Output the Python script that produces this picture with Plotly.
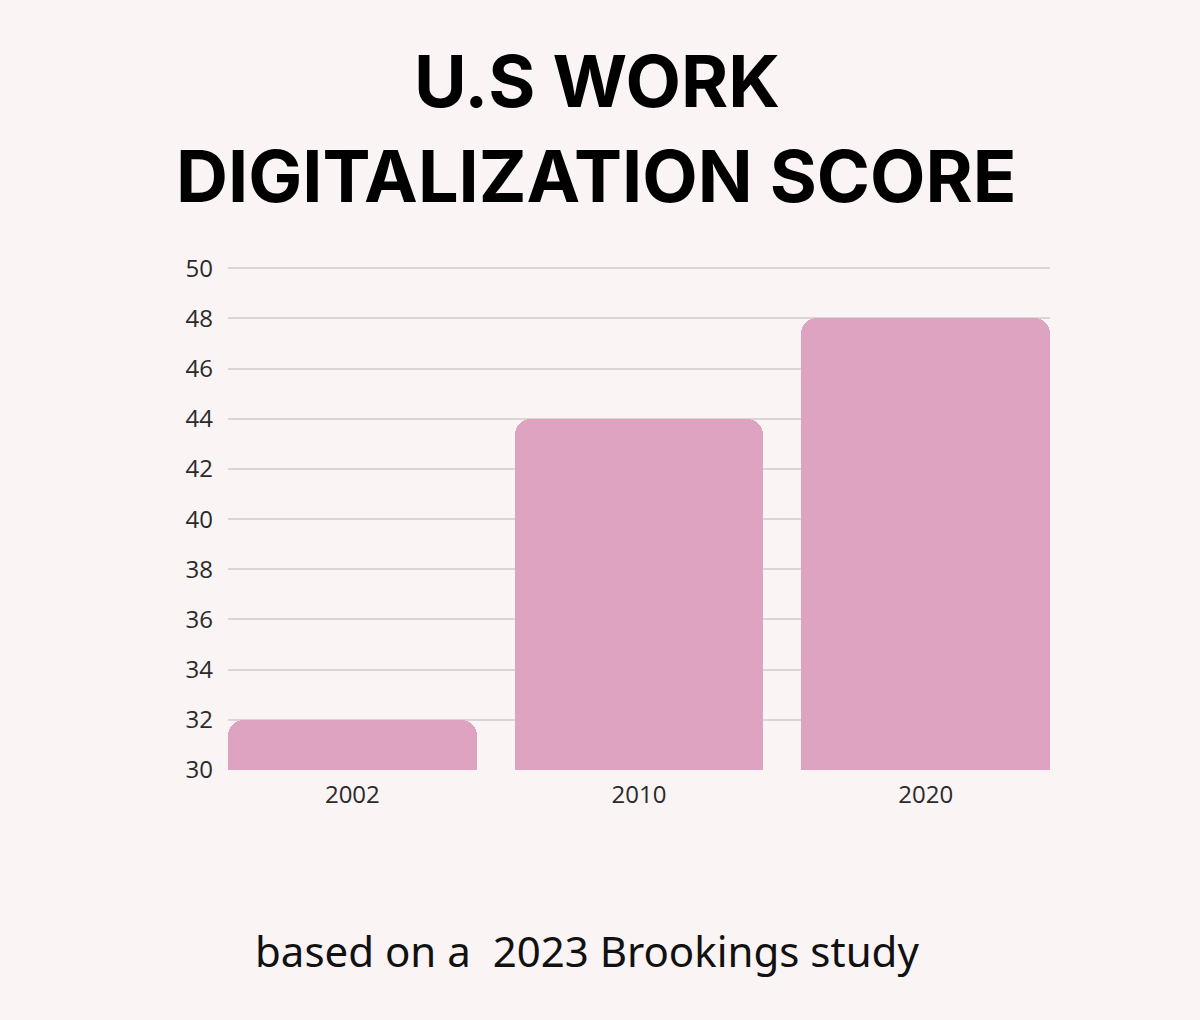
import plotly.graph_objects as go

years = ["2002", "2010", "2020"]
scores = [32, 44, 48]
y_ticks = list(range(30, 51, 2))

BG = "#FAF4F4"
BAR = "#DEA3C0"
bar_w = 0.8676

fig = go.Figure(go.Bar(
    x=years, y=scores,
    marker=dict(color=BAR, cornerradius=16, line=dict(width=0)),
    width=bar_w,
))

W, H = 1200, 1020
ML, MR, MT, MB = 228, 150, 267, 250

fig.update_layout(
    width=W, height=H,
    paper_bgcolor=BG, plot_bgcolor=BG,
    margin=dict(l=ML, r=MR, t=MT, b=MB),
    showlegend=False,
    bargap=0,
    xaxis=dict(range=[-bar_w / 2, 2 + bar_w / 2], showgrid=False, zeroline=False,
               showline=False, ticks="", tickfont=dict(family="Open Sans", size=24, color="#2a2a2a"),
               ticklabelstandoff=8),
    yaxis=dict(range=[30, 50.05], tickvals=y_ticks, showgrid=True, gridcolor="#DCD5D5",
               gridwidth=2, zeroline=False, showline=False, ticks="",
               tickfont=dict(family="Open Sans", size=24, color="#2a2a2a"),
               ticklabelstandoff=14),
)

plot_h = H - MT - MB
plot_w = W - ML - MR

def ypaper(py):
    return (H - MB - py) / plot_h

def xpaper(px):
    return (px - ML) / plot_w

fig.update_layout(annotations=[
    dict(text="U.S WORK", x=xpaper(597), y=ypaper(80), xref="paper", yref="paper",
         showarrow=False, xanchor="center", yanchor="middle",
         font=dict(family="Inter", size=72, color="#000000", weight=700)),
    dict(text="DIGITALIZATION SCORE", x=xpaper(596), y=ypaper(175), xref="paper", yref="paper",
         showarrow=False, xanchor="center", yanchor="middle",
         font=dict(family="Inter", size=72, color="#000000", weight=700)),
    dict(text="based on a  2023 Brookings study", x=xpaper(587), y=ypaper(950), xref="paper", yref="paper",
         showarrow=False, xanchor="center", yanchor="middle",
         font=dict(family="Noto Sans", size=42, color="#111111")),
])

fig.write_html("out.html")
